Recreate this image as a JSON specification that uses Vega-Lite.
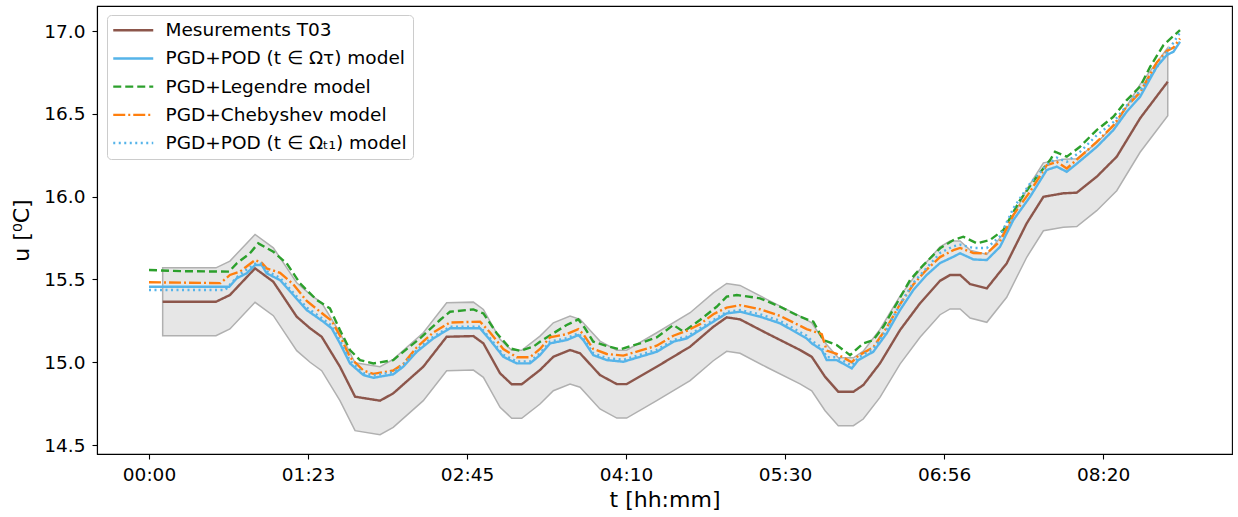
{
  "$schema": "https://vega.github.io/schema/vega-lite/v6.json",
  "width": 1135,
  "height": 448,
  "autosize": {"type": "none"},
  "padding": {"left": 97, "top": 6, "right": 6, "bottom": 63},
  "config": {
    "view": {"stroke": "black", "strokeWidth": 1.1},
    "font": "DejaVu Sans",
    "axis": {
      "grid": false, "domainColor": "black", "domainWidth": 1.1,
      "tickColor": "black", "tickWidth": 1.1, "tickSize": 5,
      "labelFont": "DejaVu Sans", "labelFontSize": 18.5, "labelColor": "black",
      "titleFont": "DejaVu Sans", "titleFontSize": 22, "titleFontWeight": "normal", "titleColor": "black"
    },
    "legend": {
      "orient": "none", "legendX": 10, "legendY": 9,
      "fillColor": "white", "strokeColor": "#cccccc", "cornerRadius": 4, "padding": 6,
      "labelFont": "DejaVu Sans", "labelFontSize": 18.5, "labelColor": "black", "labelLimit": 0,
      "symbolType": "M-4,0H4", "symbolSize": 100, "symbolStrokeWidth": 2.4,
      "symbolOffset": 11, "labelOffset": 23, "rowPadding": 9.2
    }
  },
  "datasets": {
    "band": [
      {"x": 8.6, "lo": 15.160, "hi": 15.570}, {"x": 42.1, "lo": 15.160, "hi": 15.570},
      {"x": 50.9, "lo": 15.201, "hi": 15.611}, {"x": 66.7, "lo": 15.362, "hi": 15.772},
      {"x": 78.2, "lo": 15.281, "hi": 15.691}, {"x": 92.9, "lo": 15.070, "hi": 15.480},
      {"x": 101.3, "lo": 15.000, "hi": 15.410}, {"x": 108.6, "lo": 14.949, "hi": 15.359},
      {"x": 120.1, "lo": 14.768, "hi": 15.178}, {"x": 129.6, "lo": 14.587, "hi": 14.997},
      {"x": 145.3, "lo": 14.563, "hi": 14.973}, {"x": 153.6, "lo": 14.607, "hi": 15.017},
      {"x": 172.5, "lo": 14.768, "hi": 15.178}, {"x": 187.2, "lo": 14.949, "hi": 15.359},
      {"x": 204.0, "lo": 14.953, "hi": 15.363}, {"x": 210.3, "lo": 14.909, "hi": 15.319},
      {"x": 220.8, "lo": 14.728, "hi": 15.138}, {"x": 228.1, "lo": 14.662, "hi": 15.072},
      {"x": 234.4, "lo": 14.662, "hi": 15.072}, {"x": 245.9, "lo": 14.748, "hi": 15.158},
      {"x": 254.3, "lo": 14.828, "hi": 15.238}, {"x": 264.8, "lo": 14.869, "hi": 15.279},
      {"x": 271.1, "lo": 14.849, "hi": 15.259}, {"x": 283.6, "lo": 14.718, "hi": 15.128},
      {"x": 294.2, "lo": 14.663, "hi": 15.073}, {"x": 300.4, "lo": 14.663, "hi": 15.073},
      {"x": 319.3, "lo": 14.768, "hi": 15.178}, {"x": 340.3, "lo": 14.889, "hi": 15.299},
      {"x": 354.9, "lo": 15.009, "hi": 15.419}, {"x": 363.3, "lo": 15.066, "hi": 15.476},
      {"x": 371.7, "lo": 15.054, "hi": 15.464}, {"x": 388.5, "lo": 14.970, "hi": 15.380},
      {"x": 409.4, "lo": 14.869, "hi": 15.279}, {"x": 416.8, "lo": 14.828, "hi": 15.238},
      {"x": 425.2, "lo": 14.707, "hi": 15.117}, {"x": 433.5, "lo": 14.617, "hi": 15.027},
      {"x": 443.0, "lo": 14.617, "hi": 15.027}, {"x": 449.2, "lo": 14.657, "hi": 15.067},
      {"x": 459.7, "lo": 14.788, "hi": 15.198}, {"x": 472.3, "lo": 14.989, "hi": 15.399},
      {"x": 484.9, "lo": 15.151, "hi": 15.561}, {"x": 497.5, "lo": 15.287, "hi": 15.697},
      {"x": 503.8, "lo": 15.322, "hi": 15.732}, {"x": 510.1, "lo": 15.322, "hi": 15.732},
      {"x": 516.4, "lo": 15.267, "hi": 15.677}, {"x": 526.9, "lo": 15.241, "hi": 15.651},
      {"x": 539.4, "lo": 15.392, "hi": 15.802}, {"x": 552.0, "lo": 15.634, "hi": 16.044},
      {"x": 562.5, "lo": 15.794, "hi": 16.204}, {"x": 575.0, "lo": 15.815, "hi": 16.225},
      {"x": 583.5, "lo": 15.819, "hi": 16.229}, {"x": 596.0, "lo": 15.915, "hi": 16.325},
      {"x": 608.6, "lo": 16.036, "hi": 16.446}, {"x": 623.3, "lo": 16.268, "hi": 16.678},
      {"x": 640.7, "lo": 16.489, "hi": 16.899}
    ],
    "lines": [
      {"s": "m", "x": 8.6, "y": 15.365}, {"s": "m", "x": 42.1, "y": 15.365}, {"s": "m", "x": 50.9, "y": 15.406},
      {"s": "m", "x": 66.7, "y": 15.567}, {"s": "m", "x": 78.2, "y": 15.486}, {"s": "m", "x": 92.9, "y": 15.275},
      {"s": "m", "x": 101.3, "y": 15.205}, {"s": "m", "x": 108.6, "y": 15.154}, {"s": "m", "x": 120.1, "y": 14.973},
      {"s": "m", "x": 129.6, "y": 14.792}, {"s": "m", "x": 145.3, "y": 14.768}, {"s": "m", "x": 153.6, "y": 14.812},
      {"s": "m", "x": 172.5, "y": 14.973}, {"s": "m", "x": 187.2, "y": 15.154}, {"s": "m", "x": 204.0, "y": 15.158},
      {"s": "m", "x": 210.3, "y": 15.114}, {"s": "m", "x": 220.8, "y": 14.933}, {"s": "m", "x": 228.1, "y": 14.867},
      {"s": "m", "x": 234.4, "y": 14.867}, {"s": "m", "x": 245.9, "y": 14.953}, {"s": "m", "x": 254.3, "y": 15.033},
      {"s": "m", "x": 264.8, "y": 15.074}, {"s": "m", "x": 271.1, "y": 15.054}, {"s": "m", "x": 283.6, "y": 14.923},
      {"s": "m", "x": 294.2, "y": 14.868}, {"s": "m", "x": 300.4, "y": 14.868}, {"s": "m", "x": 319.3, "y": 14.973},
      {"s": "m", "x": 340.3, "y": 15.094}, {"s": "m", "x": 354.9, "y": 15.214}, {"s": "m", "x": 363.3, "y": 15.271},
      {"s": "m", "x": 371.7, "y": 15.259}, {"s": "m", "x": 388.5, "y": 15.175}, {"s": "m", "x": 409.4, "y": 15.074},
      {"s": "m", "x": 416.8, "y": 15.033}, {"s": "m", "x": 425.2, "y": 14.912}, {"s": "m", "x": 433.5, "y": 14.822},
      {"s": "m", "x": 443.0, "y": 14.822}, {"s": "m", "x": 449.2, "y": 14.862}, {"s": "m", "x": 459.7, "y": 14.993},
      {"s": "m", "x": 472.3, "y": 15.194}, {"s": "m", "x": 484.9, "y": 15.356}, {"s": "m", "x": 497.5, "y": 15.492},
      {"s": "m", "x": 503.8, "y": 15.527}, {"s": "m", "x": 510.1, "y": 15.527}, {"s": "m", "x": 516.4, "y": 15.472},
      {"s": "m", "x": 526.9, "y": 15.446}, {"s": "m", "x": 539.4, "y": 15.597}, {"s": "m", "x": 552.0, "y": 15.839},
      {"s": "m", "x": 562.5, "y": 15.999}, {"s": "m", "x": 575.0, "y": 16.020}, {"s": "m", "x": 583.5, "y": 16.024},
      {"s": "m", "x": 596.0, "y": 16.120}, {"s": "m", "x": 608.6, "y": 16.241}, {"s": "m", "x": 623.3, "y": 16.473},
      {"s": "m", "x": 640.7, "y": 16.694},

      {"s": "pod", "x": 0, "y": 15.456}, {"s": "pod", "x": 50.5, "y": 15.456}, {"s": "pod", "x": 55.2, "y": 15.507},
      {"s": "pod", "x": 61.4, "y": 15.537}, {"s": "pod", "x": 66.7, "y": 15.587}, {"s": "pod", "x": 70.9, "y": 15.587},
      {"s": "pod", "x": 74.0, "y": 15.537}, {"s": "pod", "x": 82.4, "y": 15.496}, {"s": "pod", "x": 90.8, "y": 15.406},
      {"s": "pod", "x": 99.2, "y": 15.315}, {"s": "pod", "x": 109.6, "y": 15.245}, {"s": "pod", "x": 114.9, "y": 15.205},
      {"s": "pod", "x": 120.1, "y": 15.114}, {"s": "pod", "x": 126.4, "y": 14.993}, {"s": "pod", "x": 134.8, "y": 14.923},
      {"s": "pod", "x": 141.1, "y": 14.906}, {"s": "pod", "x": 153.6, "y": 14.927}, {"s": "pod", "x": 159.9, "y": 14.973},
      {"s": "pod", "x": 168.4, "y": 15.063}, {"s": "pod", "x": 178.8, "y": 15.144}, {"s": "pod", "x": 189.3, "y": 15.205},
      {"s": "pod", "x": 208.2, "y": 15.205}, {"s": "pod", "x": 214.5, "y": 15.134}, {"s": "pod", "x": 222.8, "y": 15.033},
      {"s": "pod", "x": 231.3, "y": 14.993}, {"s": "pod", "x": 239.6, "y": 14.993}, {"s": "pod", "x": 245.9, "y": 15.043},
      {"s": "pod", "x": 252.2, "y": 15.114}, {"s": "pod", "x": 262.7, "y": 15.134}, {"s": "pod", "x": 270.0, "y": 15.164},
      {"s": "pod", "x": 273.1, "y": 15.134}, {"s": "pod", "x": 279.4, "y": 15.043}, {"s": "pod", "x": 287.9, "y": 15.013},
      {"s": "pod", "x": 298.3, "y": 15.003}, {"s": "pod", "x": 308.8, "y": 15.033}, {"s": "pod", "x": 319.3, "y": 15.063},
      {"s": "pod", "x": 329.8, "y": 15.124}, {"s": "pod", "x": 338.2, "y": 15.144}, {"s": "pod", "x": 346.5, "y": 15.194},
      {"s": "pod", "x": 354.9, "y": 15.245}, {"s": "pod", "x": 363.3, "y": 15.295}, {"s": "pod", "x": 371.7, "y": 15.305},
      {"s": "pod", "x": 384.3, "y": 15.275}, {"s": "pod", "x": 396.9, "y": 15.235}, {"s": "pod", "x": 413.6, "y": 15.144},
      {"s": "pod", "x": 416.8, "y": 15.114}, {"s": "pod", "x": 423.1, "y": 15.074}, {"s": "pod", "x": 426.2, "y": 15.013},
      {"s": "pod", "x": 432.5, "y": 15.013}, {"s": "pod", "x": 442.0, "y": 14.963}, {"s": "pod", "x": 446.1, "y": 15.013},
      {"s": "pod", "x": 455.5, "y": 15.063}, {"s": "pod", "x": 464.0, "y": 15.175}, {"s": "pod", "x": 472.3, "y": 15.315},
      {"s": "pod", "x": 480.7, "y": 15.436}, {"s": "pod", "x": 489.1, "y": 15.527}, {"s": "pod", "x": 497.5, "y": 15.599},
      {"s": "pod", "x": 505.9, "y": 15.637}, {"s": "pod", "x": 510.1, "y": 15.658}, {"s": "pod", "x": 518.4, "y": 15.621},
      {"s": "pod", "x": 526.9, "y": 15.617}, {"s": "pod", "x": 535.2, "y": 15.697}, {"s": "pod", "x": 543.6, "y": 15.859},
      {"s": "pod", "x": 554.1, "y": 15.999}, {"s": "pod", "x": 564.6, "y": 16.161}, {"s": "pod", "x": 570.9, "y": 16.181},
      {"s": "pod", "x": 577.2, "y": 16.150}, {"s": "pod", "x": 585.5, "y": 16.215}, {"s": "pod", "x": 596.0, "y": 16.300},
      {"s": "pod", "x": 606.5, "y": 16.402}, {"s": "pod", "x": 614.9, "y": 16.513}, {"s": "pod", "x": 623.3, "y": 16.603},
      {"s": "pod", "x": 633.8, "y": 16.784}, {"s": "pod", "x": 640.1, "y": 16.855}, {"s": "pod", "x": 644.3, "y": 16.875},
      {"s": "pod", "x": 648.4, "y": 16.935},

      {"s": "leg", "x": 0, "y": 15.557}, {"s": "leg", "x": 20, "y": 15.55}, {"s": "leg", "x": 50.3, "y": 15.547},
      {"s": "leg", "x": 55.2, "y": 15.597}, {"s": "leg", "x": 63.5, "y": 15.658}, {"s": "leg", "x": 68.7, "y": 15.718},
      {"s": "leg", "x": 78.2, "y": 15.667}, {"s": "leg", "x": 86.6, "y": 15.597}, {"s": "leg", "x": 95.0, "y": 15.476},
      {"s": "leg", "x": 105.5, "y": 15.376}, {"s": "leg", "x": 113.8, "y": 15.325}, {"s": "leg", "x": 120.1, "y": 15.194},
      {"s": "leg", "x": 126.4, "y": 15.074}, {"s": "leg", "x": 132.7, "y": 15.013}, {"s": "leg", "x": 141.1, "y": 14.993},
      {"s": "leg", "x": 153.6, "y": 15.013}, {"s": "leg", "x": 159.9, "y": 15.063}, {"s": "leg", "x": 170.4, "y": 15.144},
      {"s": "leg", "x": 183.0, "y": 15.255}, {"s": "leg", "x": 189.3, "y": 15.305}, {"s": "leg", "x": 204.0, "y": 15.319},
      {"s": "leg", "x": 210.3, "y": 15.295}, {"s": "leg", "x": 218.7, "y": 15.175}, {"s": "leg", "x": 227.0, "y": 15.084},
      {"s": "leg", "x": 233.3, "y": 15.069}, {"s": "leg", "x": 241.7, "y": 15.094}, {"s": "leg", "x": 245.9, "y": 15.124},
      {"s": "leg", "x": 254.3, "y": 15.175}, {"s": "leg", "x": 262.7, "y": 15.225}, {"s": "leg", "x": 270.0, "y": 15.259},
      {"s": "leg", "x": 274.2, "y": 15.205}, {"s": "leg", "x": 279.4, "y": 15.124}, {"s": "leg", "x": 287.9, "y": 15.098},
      {"s": "leg", "x": 296.2, "y": 15.078}, {"s": "leg", "x": 308.8, "y": 15.114}, {"s": "leg", "x": 319.3, "y": 15.150},
      {"s": "leg", "x": 329.8, "y": 15.225}, {"s": "leg", "x": 336.1, "y": 15.184}, {"s": "leg", "x": 346.5, "y": 15.255},
      {"s": "leg", "x": 357.0, "y": 15.335}, {"s": "leg", "x": 363.3, "y": 15.396}, {"s": "leg", "x": 369.6, "y": 15.406},
      {"s": "leg", "x": 384.3, "y": 15.386}, {"s": "leg", "x": 396.9, "y": 15.335}, {"s": "leg", "x": 409.4, "y": 15.275},
      {"s": "leg", "x": 417.8, "y": 15.245}, {"s": "leg", "x": 424.1, "y": 15.134}, {"s": "leg", "x": 432.5, "y": 15.104},
      {"s": "leg", "x": 440.9, "y": 15.043}, {"s": "leg", "x": 449.2, "y": 15.114}, {"s": "leg", "x": 455.5, "y": 15.134},
      {"s": "leg", "x": 461.8, "y": 15.214}, {"s": "leg", "x": 470.3, "y": 15.356}, {"s": "leg", "x": 478.6, "y": 15.496},
      {"s": "leg", "x": 487.0, "y": 15.587}, {"s": "leg", "x": 497.5, "y": 15.688}, {"s": "leg", "x": 505.9, "y": 15.738},
      {"s": "leg", "x": 512.1, "y": 15.758}, {"s": "leg", "x": 520.6, "y": 15.718}, {"s": "leg", "x": 528.9, "y": 15.738},
      {"s": "leg", "x": 537.3, "y": 15.798}, {"s": "leg", "x": 547.8, "y": 15.979}, {"s": "leg", "x": 558.3, "y": 16.120},
      {"s": "leg", "x": 566.7, "y": 16.221}, {"s": "leg", "x": 569.8, "y": 16.271}, {"s": "leg", "x": 577.2, "y": 16.241},
      {"s": "leg", "x": 585.5, "y": 16.301}, {"s": "leg", "x": 596.0, "y": 16.402}, {"s": "leg", "x": 606.5, "y": 16.482},
      {"s": "leg", "x": 614.9, "y": 16.583}, {"s": "leg", "x": 623.3, "y": 16.664}, {"s": "leg", "x": 629.6, "y": 16.784},
      {"s": "leg", "x": 638.0, "y": 16.915}, {"s": "leg", "x": 648.4, "y": 17.006},

      {"s": "cheb", "x": 0, "y": 15.483}, {"s": "cheb", "x": 45, "y": 15.478}, {"s": "cheb", "x": 50.9, "y": 15.527},
      {"s": "cheb", "x": 57.2, "y": 15.547}, {"s": "cheb", "x": 66.7, "y": 15.617}, {"s": "cheb", "x": 70.9, "y": 15.60},
      {"s": "cheb", "x": 74.0, "y": 15.567}, {"s": "cheb", "x": 82.4, "y": 15.54}, {"s": "cheb", "x": 90.8, "y": 15.47},
      {"s": "cheb", "x": 99.2, "y": 15.37}, {"s": "cheb", "x": 109.6, "y": 15.29}, {"s": "cheb", "x": 114.9, "y": 15.25},
      {"s": "cheb", "x": 120.1, "y": 15.16}, {"s": "cheb", "x": 126.4, "y": 15.03}, {"s": "cheb", "x": 134.8, "y": 14.95},
      {"s": "cheb", "x": 141.1, "y": 14.93}, {"s": "cheb", "x": 153.6, "y": 14.95}, {"s": "cheb", "x": 159.9, "y": 14.99},
      {"s": "cheb", "x": 168.4, "y": 15.09}, {"s": "cheb", "x": 178.8, "y": 15.18}, {"s": "cheb", "x": 189.3, "y": 15.24},
      {"s": "cheb", "x": 208.2, "y": 15.245}, {"s": "cheb", "x": 214.5, "y": 15.18}, {"s": "cheb", "x": 222.8, "y": 15.08},
      {"s": "cheb", "x": 231.3, "y": 15.03}, {"s": "cheb", "x": 239.6, "y": 15.03}, {"s": "cheb", "x": 245.9, "y": 15.08},
      {"s": "cheb", "x": 252.2, "y": 15.15}, {"s": "cheb", "x": 262.7, "y": 15.17}, {"s": "cheb", "x": 270.0, "y": 15.20},
      {"s": "cheb", "x": 273.1, "y": 15.17}, {"s": "cheb", "x": 279.4, "y": 15.08}, {"s": "cheb", "x": 287.9, "y": 15.05},
      {"s": "cheb", "x": 298.3, "y": 15.04}, {"s": "cheb", "x": 308.8, "y": 15.07}, {"s": "cheb", "x": 319.3, "y": 15.10},
      {"s": "cheb", "x": 329.8, "y": 15.16}, {"s": "cheb", "x": 338.2, "y": 15.19}, {"s": "cheb", "x": 346.5, "y": 15.23},
      {"s": "cheb", "x": 354.9, "y": 15.29}, {"s": "cheb", "x": 363.3, "y": 15.33}, {"s": "cheb", "x": 371.7, "y": 15.345},
      {"s": "cheb", "x": 384.3, "y": 15.32}, {"s": "cheb", "x": 396.9, "y": 15.28}, {"s": "cheb", "x": 413.6, "y": 15.20},
      {"s": "cheb", "x": 416.8, "y": 15.19}, {"s": "cheb", "x": 423.1, "y": 15.17}, {"s": "cheb", "x": 426.2, "y": 15.07},
      {"s": "cheb", "x": 432.5, "y": 15.05}, {"s": "cheb", "x": 442.0, "y": 15.00}, {"s": "cheb", "x": 446.1, "y": 15.04},
      {"s": "cheb", "x": 455.5, "y": 15.09}, {"s": "cheb", "x": 464.0, "y": 15.21}, {"s": "cheb", "x": 472.3, "y": 15.35},
      {"s": "cheb", "x": 480.7, "y": 15.47}, {"s": "cheb", "x": 489.1, "y": 15.56}, {"s": "cheb", "x": 497.5, "y": 15.635},
      {"s": "cheb", "x": 505.9, "y": 15.677}, {"s": "cheb", "x": 510.1, "y": 15.69}, {"s": "cheb", "x": 518.4, "y": 15.66},
      {"s": "cheb", "x": 526.9, "y": 15.657}, {"s": "cheb", "x": 535.2, "y": 15.73}, {"s": "cheb", "x": 543.6, "y": 15.89},
      {"s": "cheb", "x": 554.1, "y": 16.03}, {"s": "cheb", "x": 564.6, "y": 16.19}, {"s": "cheb", "x": 570.9, "y": 16.21},
      {"s": "cheb", "x": 577.2, "y": 16.17}, {"s": "cheb", "x": 585.5, "y": 16.24}, {"s": "cheb", "x": 596.0, "y": 16.33},
      {"s": "cheb", "x": 606.5, "y": 16.43}, {"s": "cheb", "x": 614.9, "y": 16.545}, {"s": "cheb", "x": 623.3, "y": 16.63},
      {"s": "cheb", "x": 633.8, "y": 16.81}, {"s": "cheb", "x": 640.1, "y": 16.88}, {"s": "cheb", "x": 644.3, "y": 16.90},
      {"s": "cheb", "x": 648.4, "y": 16.955},

      {"s": "pod1", "x": 0, "y": 15.436}, {"s": "pod1", "x": 48, "y": 15.436}, {"s": "pod1", "x": 52, "y": 15.48},
      {"s": "pod1", "x": 57, "y": 15.53}, {"s": "pod1", "x": 66.7, "y": 15.595}, {"s": "pod1", "x": 70.9, "y": 15.595},
      {"s": "pod1", "x": 74.0, "y": 15.55}, {"s": "pod1", "x": 82.4, "y": 15.51}, {"s": "pod1", "x": 90.8, "y": 15.42},
      {"s": "pod1", "x": 99.2, "y": 15.33}, {"s": "pod1", "x": 109.6, "y": 15.26}, {"s": "pod1", "x": 114.9, "y": 15.22},
      {"s": "pod1", "x": 120.1, "y": 15.13}, {"s": "pod1", "x": 126.4, "y": 15.01}, {"s": "pod1", "x": 134.8, "y": 14.935},
      {"s": "pod1", "x": 141.1, "y": 14.92}, {"s": "pod1", "x": 153.6, "y": 14.94}, {"s": "pod1", "x": 159.9, "y": 14.985},
      {"s": "pod1", "x": 168.4, "y": 15.075}, {"s": "pod1", "x": 178.8, "y": 15.155}, {"s": "pod1", "x": 189.3, "y": 15.215},
      {"s": "pod1", "x": 208.2, "y": 15.215}, {"s": "pod1", "x": 214.5, "y": 15.145}, {"s": "pod1", "x": 222.8, "y": 15.045},
      {"s": "pod1", "x": 231.3, "y": 15.005}, {"s": "pod1", "x": 239.6, "y": 15.005}, {"s": "pod1", "x": 245.9, "y": 15.055},
      {"s": "pod1", "x": 252.2, "y": 15.125}, {"s": "pod1", "x": 262.7, "y": 15.145}, {"s": "pod1", "x": 270.0, "y": 15.175},
      {"s": "pod1", "x": 273.1, "y": 15.145}, {"s": "pod1", "x": 279.4, "y": 15.055}, {"s": "pod1", "x": 287.9, "y": 15.025},
      {"s": "pod1", "x": 298.3, "y": 15.015}, {"s": "pod1", "x": 308.8, "y": 15.045}, {"s": "pod1", "x": 319.3, "y": 15.075},
      {"s": "pod1", "x": 329.8, "y": 15.135}, {"s": "pod1", "x": 338.2, "y": 15.155}, {"s": "pod1", "x": 346.5, "y": 15.205},
      {"s": "pod1", "x": 354.9, "y": 15.255}, {"s": "pod1", "x": 363.3, "y": 15.305}, {"s": "pod1", "x": 371.7, "y": 15.315},
      {"s": "pod1", "x": 384.3, "y": 15.29}, {"s": "pod1", "x": 396.9, "y": 15.25}, {"s": "pod1", "x": 413.6, "y": 15.16},
      {"s": "pod1", "x": 416.8, "y": 15.13}, {"s": "pod1", "x": 423.1, "y": 15.09}, {"s": "pod1", "x": 426.2, "y": 15.03},
      {"s": "pod1", "x": 432.5, "y": 15.03}, {"s": "pod1", "x": 442.0, "y": 14.98}, {"s": "pod1", "x": 446.1, "y": 15.03},
      {"s": "pod1", "x": 455.5, "y": 15.08}, {"s": "pod1", "x": 464.0, "y": 15.20}, {"s": "pod1", "x": 472.3, "y": 15.35},
      {"s": "pod1", "x": 480.7, "y": 15.48}, {"s": "pod1", "x": 489.1, "y": 15.57}, {"s": "pod1", "x": 497.5, "y": 15.66},
      {"s": "pod1", "x": 505.9, "y": 15.70}, {"s": "pod1", "x": 510.1, "y": 15.71}, {"s": "pod1", "x": 518.4, "y": 15.69},
      {"s": "pod1", "x": 526.9, "y": 15.69}, {"s": "pod1", "x": 535.2, "y": 15.76}, {"s": "pod1", "x": 543.6, "y": 15.93},
      {"s": "pod1", "x": 554.1, "y": 16.08}, {"s": "pod1", "x": 564.6, "y": 16.19}, {"s": "pod1", "x": 570.9, "y": 16.235},
      {"s": "pod1", "x": 577.2, "y": 16.21}, {"s": "pod1", "x": 585.5, "y": 16.27}, {"s": "pod1", "x": 596.0, "y": 16.37},
      {"s": "pod1", "x": 606.5, "y": 16.45}, {"s": "pod1", "x": 614.9, "y": 16.55}, {"s": "pod1", "x": 623.3, "y": 16.64},
      {"s": "pod1", "x": 633.8, "y": 16.78}, {"s": "pod1", "x": 640.1, "y": 16.87}, {"s": "pod1", "x": 644.3, "y": 16.93},
      {"s": "pod1", "x": 648.4, "y": 16.99}
    ]
  },
  "layer": [
    {
      "data": {"name": "band"},
      "mark": {"type": "area", "fill": "#e6e6e6", "stroke": "#b0b0b0", "strokeWidth": 1.5},
      "encoding": {
        "x": {"field": "x", "type": "quantitative",
              "scale": {"domain": [-32.7, 681.1], "nice": false, "zero": false},
              "axis": {"values": [0, 100, 200, 300, 400, 500, 600], "labelPadding": 6, "titlePadding": 6,
                       "labelExpr": "['00:00','01:23','02:45','04:10','05:30','06:56','08:20'][round(datum.value/100)]"},
              "title": "t [hh:mm]"},
        "y": {"field": "lo", "type": "quantitative",
              "scale": {"domain": [14.446, 17.151], "nice": false, "zero": false},
              "axis": {"values": [14.5, 15.0, 15.5, 16.0, 16.5, 17.0], "format": ".1f", "labelPadding": 7, "titlePadding": 10},
              "title": "u [⁰C]"},
        "y2": {"field": "hi"}
      }
    },
    {
      "data": {"name": "lines"},
      "mark": {"type": "line", "strokeWidth": 2.4},
      "encoding": {
        "x": {"field": "x", "type": "quantitative"},
        "y": {"field": "y", "type": "quantitative"},
        "color": {"field": "s", "type": "nominal",
                  "scale": {"domain": ["m", "pod", "leg", "cheb", "pod1"],
                            "range": ["#8c564b", "#56b4e9", "#2ca02c", "#ff7f0e", "#56b4e9"]},
                  "legend": {"title": null,
                             "labelExpr": "{'m':'Mesurements T03','pod':'PGD+POD (t ∈ Ωτ) model','leg':'PGD+Legendre model','cheb':'PGD+Chebyshev model','pod1':'PGD+POD (t ∈ Ωₜ₁) model'}[datum.value]"}},
        "strokeDash": {"field": "s", "type": "nominal",
                       "scale": {"domain": ["m", "pod", "leg", "cheb", "pod1"],
                                 "range": [[1, 0], [1, 0], [8, 4], [12, 3, 2, 3], [2, 3.5]]},
                       "legend": {"title": null,
                                  "labelExpr": "{'m':'Mesurements T03','pod':'PGD+POD (t ∈ Ωτ) model','leg':'PGD+Legendre model','cheb':'PGD+Chebyshev model','pod1':'PGD+POD (t ∈ Ωₜ₁) model'}[datum.value]"}}
      }
    }
  ]
}
